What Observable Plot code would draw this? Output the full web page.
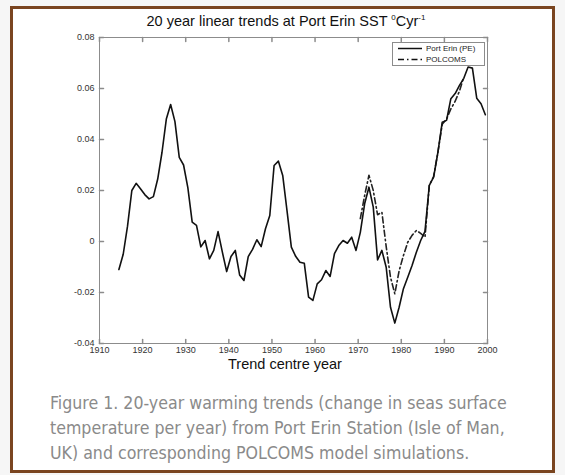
<!DOCTYPE html>
<html>
<head>
<meta charset="utf-8">
<script src="https://cdn.jsdelivr.net/npm/d3@7"></script>
<script src="https://cdn.jsdelivr.net/npm/@observablehq/plot@0.6"></script>
<style>
  html, body { margin: 0; padding: 0; background: #f6f6f6; }
  body { position: relative; width: 565px; height: 475px; overflow: hidden; }
  #frame { position: absolute; left: 10px; top: 6px; width: 545px; height: 467px; box-sizing: border-box;
           border: 3px solid #7a4520; background: #fff; }
  #chart { position: absolute; left: 0; top: 0; }
  #title { position: absolute; left: 86px; width: 400px; top: 13px; text-align: center;
           font: 14.5px "Liberation Sans", Arial, sans-serif; color: #111; line-height: 17px; }
  #title sup { font-size: 8px; vertical-align: 6px; line-height: 0; }
  #xlabel { position: absolute; left: 185px; width: 200px; top: 357px; text-align: center;
            font: 14.5px "Liberation Sans", Arial, sans-serif; color: #111; line-height: 15px; }
  #legend { position: absolute; left: 392px; top: 42px; }
  #caption { position: absolute; left: 50px; top: 391px; width: 505px;
             font: 17.6px "DejaVu Sans Condensed", "DejaVu Sans", sans-serif; color: #8a8a8a; line-height: 25px; }
</style>
</head>
<body>
<div id="frame"></div>
<div id="chart"></div>
<div id="title">20 year linear trends at Port Erin SST <sup>0</sup>Cyr<sup>-1</sup></div>
<div id="xlabel">Trend centre year</div>
<div id="legend"></div>
<div id="caption">Figure 1. 20-year warming trends (change in seas surface<br>temperature per year) from Port Erin Station (Isle of Man,<br>UK) and corresponding POLCOMS model simulations.</div>
<script>
// ---- data ----
const peYears = [1914.5,1915.5,1916.5,1917.5,1918.5,1919.5,1920.5,1921.5,1922.5,1923.5,
  1924.5,1925.5,1926.5,1927.5,1928.5,1929.5,1930.5,1931.5,1932.5,1933.5,
  1934.5,1935.5,1936.5,1937.5,1938.5,1939.5,1940.5,1941.5,1942.5,1943.5,
  1944.5,1945.5,1946.5,1947.5,1948.5,1949.5,1950.5,1951.5,1952.5,1953.5,
  1954.5,1955.5,1956.5,1957.5,1958.5,1959.5,1960.5,1961.5,1962.5,1963.5,
  1964.5,1965.5,1966.5,1967.5,1968.5,1969.5,1970.5,1971.5,1972.5,1973.5,
  1974.5,1975.5,1976.5,1977.5,1978.5,1979.5,1980.5,1981.5,1982.5,1983.5,
  1984.5,1985.5,1986.5,1987.5,1988.5,1989.5,1990.5,1991.5,1992.5,1993.5,
  1994.5,1995.5,1996.5,1997.5,1998.5,1999.5];
const peValues = [-0.011,-0.005,0.006,0.020,0.0228,0.0207,0.0184,0.0167,0.0176,0.0245,
  0.035,0.048,0.0537,0.047,0.033,0.030,0.021,0.0076,0.0063,-0.0021,
  0.0004,-0.0068,-0.0035,0.0039,-0.0042,-0.0118,-0.0059,-0.0035,-0.0131,-0.0153,
  -0.0059,-0.0031,0.0007,-0.0020,0.0050,0.0102,0.0298,0.0315,0.0259,0.012,
  -0.0022,-0.0058,-0.0081,-0.0085,-0.0218,-0.0231,-0.0166,-0.0150,-0.0114,-0.0137,
  -0.0048,-0.0016,0.0004,-0.0007,0.0017,-0.0035,0.0036,0.0148,0.0213,0.0135,
  -0.0072,-0.0035,-0.0101,-0.0258,-0.0320,-0.0258,-0.0185,-0.0140,-0.0094,-0.0042,
  0.0004,0.0040,0.0220,0.0252,0.0350,0.0468,0.0475,0.0560,0.0580,0.0612,
  0.0640,0.0684,0.0680,0.0562,0.0540,0.0497];
const polYears = [1970.5,1971.5,1972.5,1973.5,1974.5,1975.5,1976.5,1977.5,1978.5,1979.5,
  1980.5,1981.5,1982.5,1983.5,1984.5,1985.5,1986.5,1987.5,1988.5,1989.5,
  1990.5,1991.5,1992.5,1993.5,1994.5];
const polValues = [0.009,0.018,0.026,0.020,0.0105,0.0115,-0.002,-0.014,-0.0205,-0.0115,
  -0.0055,-0.0003,0.0024,0.0043,0.0032,0.0017,0.022,0.0255,0.035,0.046,
  0.048,0.052,0.055,0.059,0.0645];
const xTicks = [1910,1920,1930,1940,1950,1960,1970,1980,1990,2000];
const yTicks = [-0.04,-0.02,0,0.02,0.04,0.06,0.08];
const seriesNames = ["Port Erin (PE)", "POLCOMS"];

const pe = peYears.map((x, i) => ({x, y: peValues[i]}));
const pol = polYears.map((x, i) => ({x, y: polValues[i]}));

const tickShape = {draw(ctx, l) { ctx.moveTo(0, 0); ctx.lineTo(0, -l); }};
const axisGray = "#8c8c8c";
const dashPattern = "6,3,1.5,3";
const fmtY = d => d === 0 ? "0" : d.toFixed(2);

const chart = Plot.plot({
  width: 565, height: 380,
  marginLeft: 99, marginRight: 78, marginTop: 37, marginBottom: 37,
  style: {fontFamily: "'Liberation Sans', Arial, sans-serif", background: "transparent", color: "#333"},
  x: {domain: [1910, 2000]},
  y: {domain: [-0.04, 0.08]},
  marks: [
    Plot.frame({stroke: axisGray}),
    Plot.vector(xTicks, {x: d => d, y: -0.04, length: 4, rotate: 0, anchor: "start", shape: tickShape, stroke: axisGray}),
    Plot.vector(xTicks, {x: d => d, y: 0.08, length: 4, rotate: 180, anchor: "start", shape: tickShape, stroke: axisGray}),
    Plot.vector(yTicks, {x: 1910, y: d => d, length: 4, rotate: 90, anchor: "start", shape: tickShape, stroke: axisGray}),
    Plot.vector(yTicks, {x: 2000, y: d => d, length: 4, rotate: -90, anchor: "start", shape: tickShape, stroke: axisGray}),
    Plot.axisX(xTicks, {tickSize: 0, tickPadding: 3, fontSize: 9, tickFormat: d => String(d), label: null, fill: "#333"}),
    Plot.axisY(yTicks, {tickSize: 0, tickPadding: 5, fontSize: 9, tickFormat: fmtY, label: null, fill: "#333"}),
    Plot.line(pol, {x: "x", y: "y", stroke: "#222", strokeWidth: 1.6, strokeDasharray: dashPattern}),
    Plot.line(pe, {x: "x", y: "y", stroke: "#111", strokeWidth: 1.6})
  ]
});
document.getElementById("chart").appendChild(chart);

// legend
const lg = d3.select("#legend").append("svg").attr("width", 93).attr("height", 24);
lg.append("rect").attr("x", 0.5).attr("y", 0.5).attr("width", 92).attr("height", 23)
  .attr("fill", "#fff").attr("stroke", axisGray);
const dashes = [null, dashPattern];
seriesNames.forEach((name, i) => {
  const yy = 6.5 + i * 11;
  lg.append("line").attr("x1", 6).attr("x2", 30).attr("y1", yy).attr("y2", yy)
    .attr("stroke", "#111").attr("stroke-width", 1.5).attr("stroke-dasharray", dashes[i]);
  lg.append("text").attr("x", 34).attr("y", yy).attr("dy", "0.35em")
    .attr("font-family", "'Liberation Sans', Arial, sans-serif").attr("font-size", 8).attr("fill", "#222")
    .text(name);
});
</script>
</body>
</html>
